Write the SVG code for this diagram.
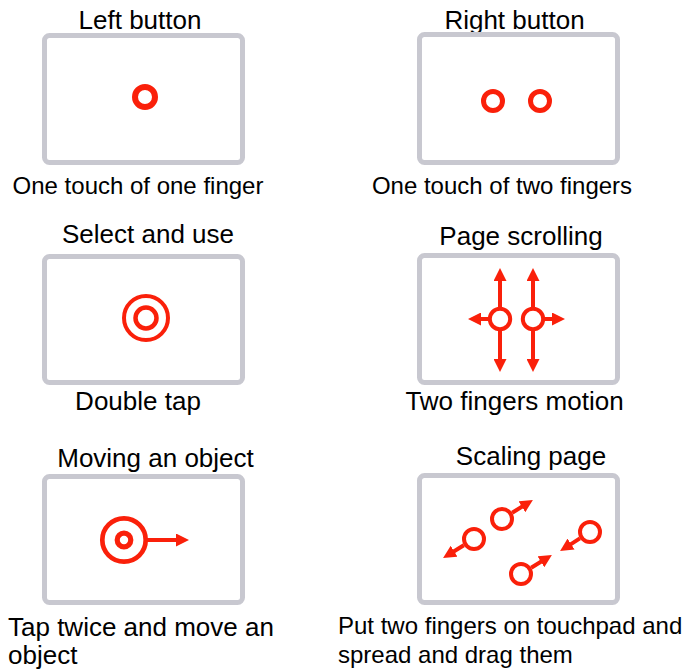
<svg xmlns="http://www.w3.org/2000/svg" width="684" height="671" viewBox="0 0 684 671">
<style>
.pad{fill:#fff;stroke:#c8c8d0;stroke-width:5}
.ring{fill:none;stroke:#fa200a}
.arr{stroke:#fa200a;stroke-width:4;fill:none}
.t{font-family:"Liberation Sans",Arial,sans-serif;fill:#000}
.t26{font-size:26px}
.t24{font-size:24px}
</style>
<defs>
<marker id="ah" markerUnits="userSpaceOnUse" markerWidth="13" markerHeight="13" refX="1" refY="6.5" orient="auto" viewBox="0 0 13 13">
<path d="M0,0 L13,6.5 L0,13 z" fill="#fa200a"/>
</marker>
</defs>
<rect width="684" height="671" fill="#fff"/>

<g id="left-button">
<text class="t t26" x="140" y="29" text-anchor="middle">Left button</text>
<rect class="pad" x="44.5" y="35.5" width="198" height="127" rx="5"/>
<circle class="ring" cx="145" cy="97" r="10" stroke-width="6"/>
<text class="t t24" x="138" y="194" text-anchor="middle">One touch of one finger</text>
</g>

<g id="right-button">
<text class="t t26" x="514.5" y="29" text-anchor="middle">Right button</text>
<rect class="pad" x="419.5" y="34.5" width="198" height="128" rx="5"/>
<circle class="ring" cx="493" cy="101" r="9.5" stroke-width="5"/>
<circle class="ring" cx="540" cy="101" r="9.5" stroke-width="5"/>
<text class="t t24" x="502" y="194" text-anchor="middle">One touch of two fingers</text>
</g>

<g id="select-and-use">
<text class="t t26" x="148" y="243" text-anchor="middle">Select and use</text>
<rect class="pad" x="44.5" y="256.5" width="198" height="126" rx="5"/>
<circle class="ring" cx="146" cy="318" r="22" stroke-width="4"/>
<circle class="ring" cx="146" cy="318" r="10.5" stroke-width="4.5"/>
<text class="t t26" x="138" y="410" text-anchor="middle">Double tap</text>
</g>

<g id="page-scrolling">
<text class="t t26" x="521" y="245" text-anchor="middle">Page scrolling</text>
<rect class="pad" x="419.5" y="255.5" width="198" height="127" rx="5"/>
<circle class="ring" cx="500" cy="319" r="10.2" stroke-width="4"/>
<circle class="ring" cx="533" cy="319" r="10.2" stroke-width="4"/>
<text class="t t26" x="514.5" y="410" text-anchor="middle">Two fingers motion</text>
</g>

<g id="moving-an-object">
<text class="t t26" x="155.5" y="467" text-anchor="middle">Moving an object</text>
<rect class="pad" x="44.5" y="476.5" width="198" height="126" rx="5"/>
<circle class="ring" cx="124" cy="540" r="21.7" stroke-width="4.7"/>
<circle class="ring" cx="124" cy="540" r="6.8" stroke-width="5.2"/>
<text class="t t26" x="8" y="636">Tap twice and move an</text>
<text class="t t26" x="8" y="664">object</text>
</g>

<g id="scaling-page">
<text class="t t26" x="531" y="465" text-anchor="middle">Scaling page</text>
<rect class="pad" x="419.5" y="475.5" width="198" height="127" rx="5"/>
<circle class="ring" cx="474" cy="539" r="10" stroke-width="4"/>
<circle class="ring" cx="502" cy="519" r="10" stroke-width="4"/>
<circle class="ring" cx="590" cy="532" r="10" stroke-width="4"/>
<circle class="ring" cx="521" cy="574" r="10" stroke-width="4"/>
<text class="t t24" x="338" y="634">Put two fingers on touchpad and</text>
<text class="t t24" x="338" y="663">spread and drag them</text>
</g>

<g id="connectors">
<line class="arr" x1="500" y1="307" x2="500" y2="280" marker-end="url(#ah)"/>
<line class="arr" x1="500" y1="331" x2="500" y2="360" marker-end="url(#ah)"/>
<line class="arr" x1="488" y1="319" x2="480" y2="319" marker-end="url(#ah)"/>
<line class="arr" x1="533" y1="307" x2="533" y2="280" marker-end="url(#ah)"/>
<line class="arr" x1="533" y1="331" x2="533" y2="360" marker-end="url(#ah)"/>
<line class="arr" x1="545" y1="319" x2="553" y2="319" marker-end="url(#ah)"/>
<line class="arr" x1="146" y1="540" x2="177" y2="540" stroke-width="3" marker-end="url(#ah)"/>
<line class="arr" x1="463.8" y1="545.3" x2="453.3" y2="551.8" stroke-width="4.5" marker-end="url(#ah)"/>
<line class="arr" x1="512.2" y1="512.7" x2="522.7" y2="506.2" stroke-width="4.5" marker-end="url(#ah)"/>
<line class="arr" x1="579.9" y1="538.4" x2="570.2" y2="544.6" stroke-width="4.5" marker-end="url(#ah)"/>
<line class="arr" x1="531.2" y1="567.7" x2="541.7" y2="561.2" stroke-width="4.5" marker-end="url(#ah)"/>
</g>
</svg>
